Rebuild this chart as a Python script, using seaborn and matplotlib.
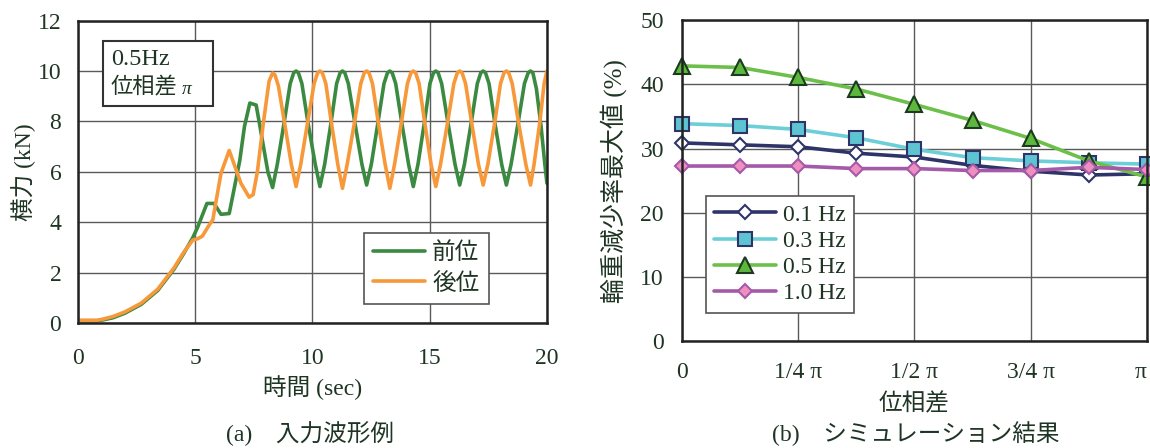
import matplotlib
matplotlib.use('Agg')
import matplotlib.pyplot as plt
import seaborn as sns
from matplotlib.patches import Rectangle

# ---------------- data: (a) input waveform ----------------
t_front = [0.0, 0.8, 1.0, 1.5, 2.0, 2.7, 3.4, 4.1, 4.5, 4.9, 5.1, 5.5, 5.8, 6.1, 6.45, 6.9,
           7.1, 7.33, 7.6, 7.8, 8.1, 8.3,
           8.5, 8.8, 9.05, 9.2, 9.3, 9.4, 9.55, 9.8, 10.12, 10.32,
           10.52, 10.8, 11.03, 11.18, 11.28, 11.38, 11.53, 11.8, 12.11, 12.31,
           12.51, 12.8, 13.05, 13.2, 13.3, 13.4, 13.55, 13.8, 14.1, 14.3,
           14.5, 14.78, 15.01, 15.16, 15.26, 15.36, 15.51, 15.77, 16.08, 16.28,
           16.48, 16.78, 17.03, 17.18, 17.28, 17.38, 17.53, 17.77, 18.07, 18.27,
           18.47, 18.78, 19.04, 19.2, 19.3, 19.4, 19.55, 19.75, 19.9, 20.0]
v_front = [0.1, 0.1, 0.12, 0.22, 0.4, 0.75, 1.3, 2.15, 2.75, 3.4, 3.8, 4.75, 4.75, 4.32, 4.35, 6.45,
           7.8, 8.73, 8.65, 7.6, 6.0, 5.38,
           6.3, 8.0, 9.5, 9.93, 10.0, 9.93, 9.5, 8.0, 6.3, 5.42,
           6.3, 8.0, 9.5, 9.93, 10.0, 9.93, 9.5, 8.0, 6.3, 5.48,
           6.3, 8.0, 9.5, 9.93, 10.0, 9.93, 9.5, 8.0, 6.3, 5.42,
           6.3, 8.0, 9.5, 9.93, 10.0, 9.93, 9.5, 8.0, 6.3, 5.48,
           6.3, 8.0, 9.5, 9.93, 10.0, 9.93, 9.5, 8.0, 6.3, 5.48,
           6.3, 8.0, 9.5, 9.93, 10.0, 9.93, 9.3, 7.8, 6.4, 5.55]
t_rear = [0.0, 0.8, 1.0, 1.5, 2.0, 2.7, 3.4, 4.1, 4.5, 4.9, 5.1, 5.3, 5.6, 5.75, 6.1, 6.45,
          6.95, 7.3, 7.47, 7.65, 7.9, 8.15, 8.3,
          8.4, 8.55, 8.8, 9.1, 9.3, 9.5, 9.8, 10.07, 10.22, 10.32,
          10.42, 10.57, 10.8, 11.08, 11.28, 11.48, 11.8, 12.06, 12.21, 12.31,
          12.41, 12.56, 12.8, 13.1, 13.3, 13.5, 13.8, 14.05, 14.2, 14.3,
          14.4, 14.55, 14.78, 15.06, 15.26, 15.46, 15.77, 16.03, 16.18, 16.28,
          16.38, 16.53, 16.78, 17.08, 17.28, 17.48, 17.78, 18.02, 18.17, 18.27,
          18.37, 18.52, 18.78, 19.1, 19.3, 19.45, 19.7, 19.88, 20.0]
v_rear = [0.12, 0.12, 0.15, 0.27, 0.45, 0.8, 1.35, 2.2, 2.8, 3.3, 3.35, 3.45, 3.9, 4.1, 5.95, 6.85,
          5.55, 5.0, 5.1, 6.0, 7.9, 9.6, 9.92,
          9.85, 9.4, 8.0, 6.3, 5.42, 6.3, 8.0, 9.5, 9.93, 10.0,
          9.93, 9.5, 8.0, 6.3, 5.35, 6.3, 8.0, 9.5, 9.93, 10.0,
          9.93, 9.5, 8.0, 6.3, 5.35, 6.3, 8.0, 9.5, 9.93, 10.0,
          9.93, 9.5, 8.0, 6.3, 5.42, 6.3, 8.0, 9.5, 9.93, 10.0,
          9.93, 9.5, 8.0, 6.3, 5.48, 6.3, 8.0, 9.5, 9.93, 10.0,
          9.93, 9.5, 8.0, 6.3, 5.48, 6.3, 8.0, 9.5, 10.0]
wave_labels = ['前位', '後位']
left_xticks = [0, 5, 10, 15, 20]
left_yticks = [0, 2, 4, 6, 8, 10, 12]

# ---------------- data: (b) simulation result ----------------
phase = [0, 0.125, 0.25, 0.375, 0.5, 0.625, 0.75, 0.875, 1.0]   # in units of pi
r01 = [30.9, 30.6, 30.3, 29.3, 28.7, 27.4, 26.5, 25.9, 26.1]
r03 = [33.9, 33.6, 33.0, 31.7, 29.9, 28.6, 28.1, 27.8, 27.6]
r05 = [42.9, 42.65, 41.1, 39.3, 36.9, 34.4, 31.6, 28.1, 25.6]
r10 = [27.3, 27.3, 27.3, 26.9, 26.9, 26.6, 26.6, 27.1, 26.75]
freq_labels = ['0.1 Hz', '0.3 Hz', '0.5 Hz', '1.0 Hz']
phase_ticks = [0, 0.25, 0.5, 0.75, 1.0]
phase_ticklabels = ['0', '1/4 π', '1/2 π', '3/4 π', 'π']
right_yticks = [0, 10, 20, 30, 40, 50]

# ---------------- style ----------------
sns.set_style('white')
plt.rcParams['font.family'] = ['Liberation Serif', 'Noto Sans CJK JP']
plt.rcParams['axes.unicode_minus'] = False

TXT = '#1f3524'
GRID = '#5a5a5a'
SPINE = '#222222'
FS = 17

fig = plt.figure(figsize=(11.5, 4.48), dpi=100)
ax1 = fig.add_axes([0.0678, 0.2784, 0.4078, 0.6757])
ax2 = fig.add_axes([0.593, 0.2382, 0.4043, 0.7165])

for ax in (ax1, ax2):
    ax.set_axisbelow(True)
    ax.grid(True, color=GRID, linewidth=1.0)
    for s in ax.spines.values():
        s.set_color(SPINE)
        s.set_linewidth(1.8)
        s.set_visible(True)

# ---------------- (a) ----------------
sns.lineplot(x=t_front, y=v_front, ax=ax1, color='#3b8a41', linewidth=2.6,
             sort=False, estimator=None, label=wave_labels[0])
sns.lineplot(x=t_rear, y=v_rear, ax=ax1, color='#f7993a', linewidth=2.6,
             sort=False, estimator=None, label=wave_labels[1])
ax1.set_xlim(0, 20)
ax1.set_ylim(0, 12)
ax1.set_xticks(left_xticks)
ax1.set_yticks(left_yticks)
ax1.tick_params(axis='x', length=0, pad=18, labelsize=FS, labelcolor=TXT)
ax1.tick_params(axis='y', length=0, pad=12, labelsize=FS, labelcolor=TXT)
ax1.set_xlabel('時間 (sec)', fontsize=FS, color=TXT)
ax1.xaxis.set_label_coords(0.5, -0.214)
ax1.xaxis.label.set_va('center')
ax1.set_ylabel('横力 (kN)', fontsize=FS, color=TXT)
ax1.yaxis.set_label_coords(-0.117, 0.5)
ax1.yaxis.label.set_va('center')

leg1 = ax1.legend(loc='upper left', bbox_to_anchor=(0.609, 0.298), borderaxespad=0,
                  fontsize=FS, handlelength=2.2, handletextpad=0.3, borderpad=0.4,
                  labelspacing=0.35, fancybox=False, framealpha=1, edgecolor='#555555')
leg1.get_frame().set_linewidth(1.2)
for tx in leg1.get_texts():
    tx.set_color(TXT)

ax1.add_patch(Rectangle((0.0533, 0.718), 0.2345, 0.216, transform=ax1.transAxes,
                        facecolor='white', edgecolor='#333333', linewidth=1.5, zorder=3))
ax1.text(0.0704, 0.872, '0.5Hz', transform=ax1.transAxes, fontsize=17.5, color=TXT,
         va='center', ha='left', zorder=4)
ax1.text(0.0704, 0.778, '位相差', transform=ax1.transAxes, fontsize=16, color=TXT,
         va='center', ha='left', zorder=4)
ax1.text(0.2217, 0.772, 'π', transform=ax1.transAxes, fontsize=14, color=TXT,
         va='center', ha='left', style='italic', zorder=4)

# ---------------- (b) ----------------
series = [
    (r01, '#2f3468', 'D', 7.6, 'white', '#2f3468'),
    (r03, '#6ccfd8', 's', 9.4, '#5ec4d2', '#2f3468'),
    (r05, '#6cc04a', '^', 11.0, '#5cb83c', '#1c3a1e'),
    (r10, '#a45aa8', 'D', 7.6, '#ef8fc0', '#a45aa8'),
]
for (vals, lc, mk, ms, mfc, mec), lab in zip(series, freq_labels):
    sns.lineplot(x=phase, y=vals, ax=ax2, color=lc, linewidth=2.6, marker=mk,
                 markersize=ms, markerfacecolor=mfc, markeredgecolor=mec,
                 markeredgewidth=1.5, clip_on=False, sort=False, estimator=None,
                 label=lab)
ax2.set_xlim(0, 1)
ax2.set_ylim(0, 50)
ax2.set_xticks(phase_ticks)
ax2.set_xticklabels(phase_ticklabels)
ax2.set_yticks(right_yticks)
ax2.tick_params(axis='x', length=0, pad=15, labelsize=FS, labelcolor=TXT)
ax2.tick_params(axis='y', length=0, pad=13, labelsize=FS, labelcolor=TXT)
ax2.get_xticklabels()[-1].set_ha('right')
ax2.set_xlabel('位相差', fontsize=FS, color=TXT)
ax2.xaxis.set_label_coords(0.5, -0.195)
ax2.xaxis.label.set_va('center')
ax2.set_ylabel('輪重減少率最大値 (%)', fontsize=18, color=TXT)
ax2.yaxis.set_label_coords(-0.146, 0.5)
ax2.yaxis.label.set_va('center')

leg2 = ax2.legend(loc='upper left', bbox_to_anchor=(0.0516, 0.453), borderaxespad=0,
                  fontsize=FS, handlelength=2.6, handletextpad=0.3, borderpad=0.35,
                  labelspacing=0.2, fancybox=False, framealpha=1, edgecolor='#555555')
leg2.get_frame().set_linewidth(1.2)
for tx in leg2.get_texts():
    tx.set_color(TXT)

# captions
fig.text(0.27, 1 - 434 / 448, '(a)\u3000入力波形例', fontsize=FS, color=TXT,
         ha='center', va='center')
fig.text(0.796, 1 - 434 / 448, '(b)\u3000シミュレーション結果', fontsize=FS, color=TXT,
         ha='center', va='center')

fig.savefig('out.png', dpi=100)
